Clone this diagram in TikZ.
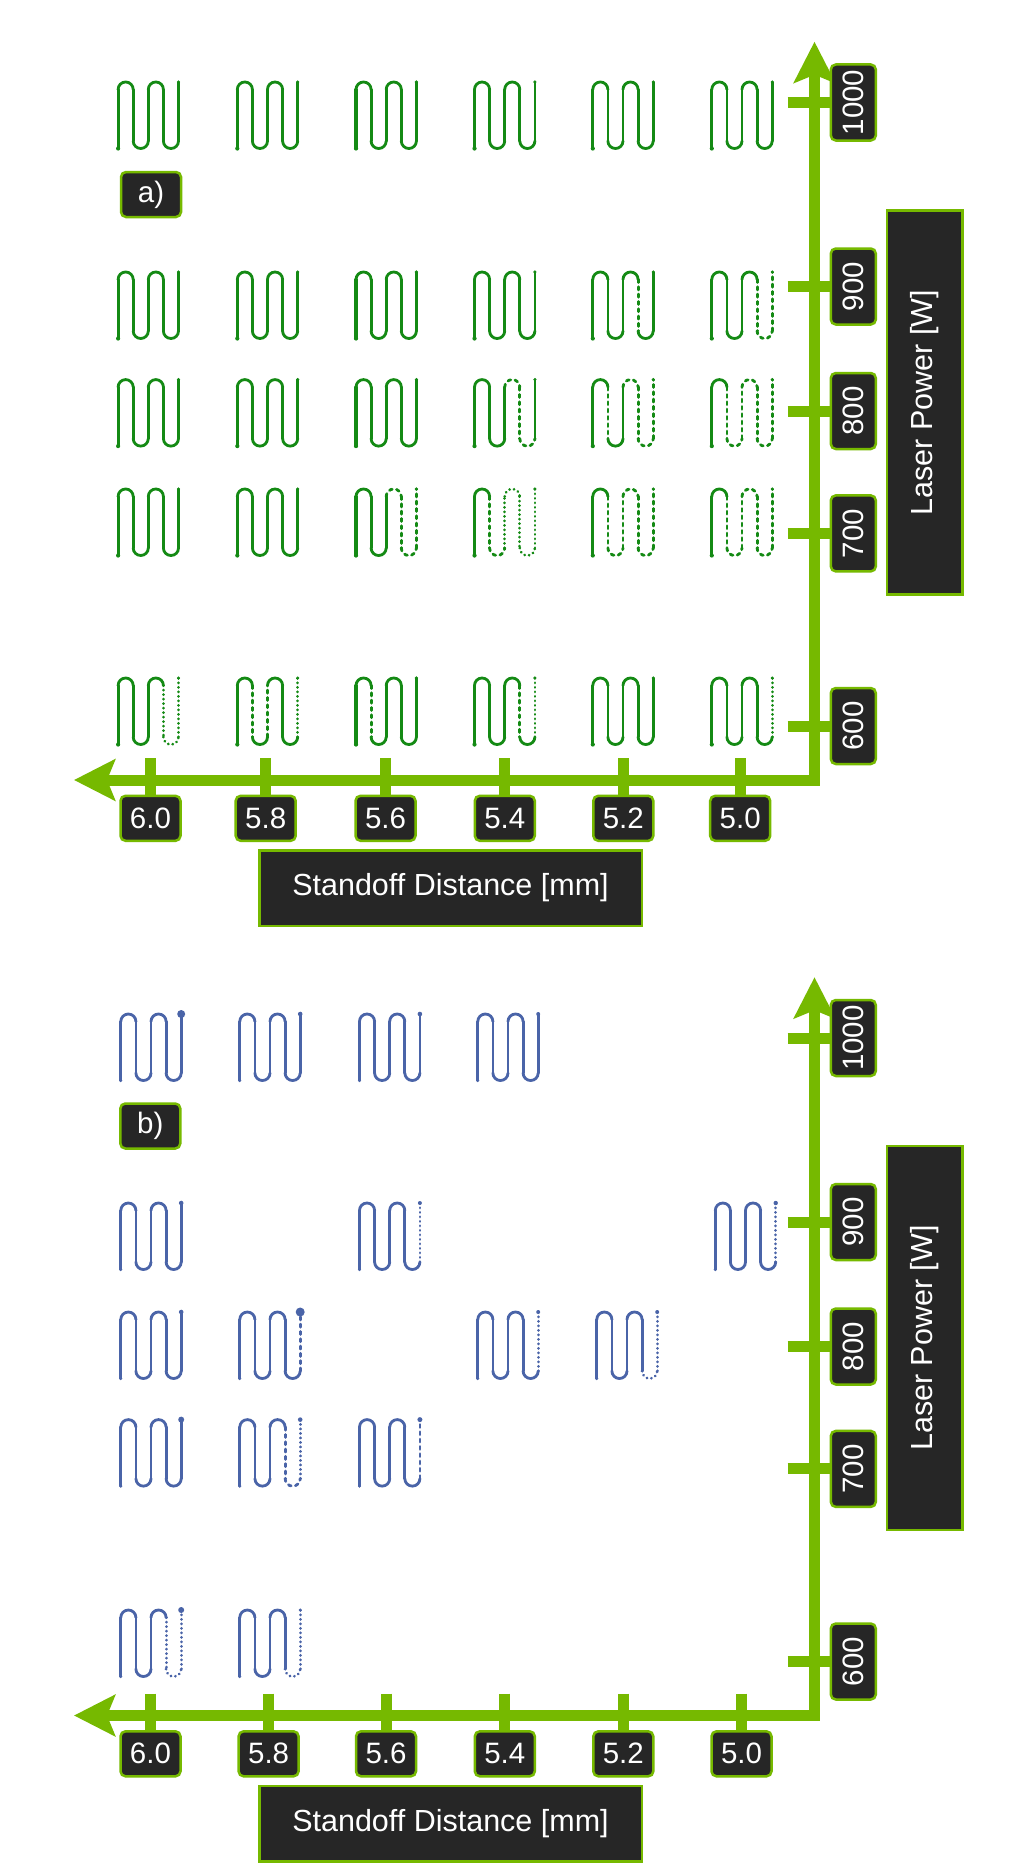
\documentclass[tikz,border=0pt]{standalone}
\usepackage{fontspec}
\setmainfont{Liberation Sans}
\usetikzlibrary{arrows.meta}
\definecolor{axgreen}{HTML}{76B900}
\definecolor{boxdark}{HTML}{262626}
\definecolor{mgreen}{HTML}{148A14}
\definecolor{mblue}{HTML}{4A64A8}
\tikzset{
  sg/.style={},
  ds/.style={dash pattern=on 3pt off 4.3pt},
  dt/.style={dash pattern=on 0.2pt off 4.3pt},
  axisline/.style={draw=axgreen, line width=11pt, line join=miter,
    arrows={Stealth[length=41pt,width=41pt,inset=8pt]-Stealth[length=41pt,width=41pt,inset=8pt]}},
  tickline/.style={draw=axgreen, line width=11pt},
  tickbox/.style={draw=axgreen, fill=boxdark, line width=2.5pt, rounded corners=5pt, text=white,
    font=\fontsize{29.5pt}{30pt}\selectfont, inner sep=0pt, minimum width=60pt, minimum height=45pt},
  vtickbox/.style={tickbox, rotate=90, minimum width=76pt},
  titlebox/.style={draw=axgreen, fill=boxdark, line width=2.5pt, text=white,
    font=\fontsize{30.5pt}{31pt}\selectfont, inner sep=0pt, minimum height=75.5pt},
}
% meander: #1 centre x, #2 top y, #3 colour, #4 nine segment styles, #5 end dot radius, #6 start dot radius
\newcommand{\mnd}[6]{%
 \edef\mndlist{#4}%
 \begin{scope}[shift={({#1-30.2},#2)}, color=#3, line width=2.8pt, line cap=round, rounded corners=7.5pt]
  \foreach \st [count=\i] in \mndlist {%
   \ifcase\i\or
    \draw[style=\st, line width=3.1pt] (0,66.5) -- (0,7.55);
   \or
    \draw[style=\st] (0,7.55) -- (0,0) -- (15.1,0) -- (15.1,7.55);
   \or
    \draw[style=\st] (15.1,7.55) -- (15.1,58.95);
   \or
    \draw[style=\st] (15.1,58.95) -- (15.1,66.5) -- (30.2,66.5) -- (30.2,58.95);
   \or
    \draw[style=\st] (30.2,58.95) -- (30.2,7.55);
   \or
    \draw[style=\st] (30.2,7.55) -- (30.2,0) -- (45.3,0) -- (45.3,7.55);
   \or
    \draw[style=\st] (45.3,7.55) -- (45.3,58.95);
   \or
    \draw[style=\st] (45.3,58.95) -- (45.3,66.5) -- (60.4,66.5) -- (60.4,58.95);
   \or
    \draw[style=\st] (60.4,58.95) -- (60.4,0);
   \fi
  }
  \fill (60.4,0) circle (#5pt);
  \fill (0,66.5) circle (#6pt);
 \end{scope}}
\def\S{sg,sg,sg,sg,sg,sg,sg,sg,sg}
\begin{document}
\begin{tikzpicture}[x=1pt,y=-1pt]
\useasboundingbox (0,0) rectangle (1020,1876);
\fill[white] (0,0) rectangle (1020,1876);

% ================= panel a =================
\mnd{148.3}{82}{mgreen}{\S}{1.7}{2.1}
\mnd{267.5}{82}{mgreen}{\S}{1.7}{2.1}
\mnd{386.2}{82}{mgreen}{\S}{1.7}{2.1}
\mnd{504.7}{82}{mgreen}{\S}{1.7}{2.1}
\mnd{623}{82}{mgreen}{\S}{1.7}{2.1}
\mnd{742}{82}{mgreen}{\S}{1.7}{2.1}

\mnd{148.3}{272}{mgreen}{\S}{1.7}{2.1}
\mnd{267.5}{272}{mgreen}{\S}{1.7}{2.1}
\mnd{386.2}{272}{mgreen}{\S}{1.7}{2.1}
\mnd{504.7}{272}{mgreen}{\S}{1.7}{2.1}
\mnd{623}{272}{mgreen}{sg,sg,sg,sg,sg,sg,ds,sg,sg}{1.7}{2.1}
\mnd{742}{272}{mgreen}{sg,sg,sg,sg,sg,sg,ds,ds,ds}{1.7}{2.1}

\mnd{148.3}{379.6}{mgreen}{\S}{1.7}{2.1}
\mnd{267.5}{379.6}{mgreen}{\S}{1.7}{2.1}
\mnd{386.2}{379.6}{mgreen}{\S}{1.7}{2.1}
\mnd{504.7}{379.6}{mgreen}{sg,sg,sg,sg,sg,ds,ds,ds,sg}{1.7}{2.1}
\mnd{623}{379.6}{mgreen}{sg,sg,ds,sg,sg,ds,ds,ds,ds}{1.7}{2.1}
\mnd{742}{379.6}{mgreen}{sg,sg,ds,ds,ds,ds,ds,ds,ds}{1.7}{2.1}

\mnd{148.3}{489}{mgreen}{\S}{1.7}{2.1}
\mnd{267.5}{489}{mgreen}{\S}{1.7}{2.1}
\mnd{386.2}{489}{mgreen}{sg,sg,sg,sg,sg,ds,ds,ds,ds}{1.7}{2.1}
\mnd{504.7}{489}{mgreen}{sg,sg,ds,ds,dt,dt,dt,dt,dt}{1.7}{2.1}
\mnd{623}{489}{mgreen}{sg,sg,ds,ds,ds,ds,ds,ds,ds}{1.7}{2.1}
\mnd{742}{489}{mgreen}{sg,sg,ds,ds,ds,ds,ds,ds,ds}{1.7}{2.1}

\mnd{148.3}{678}{mgreen}{sg,sg,sg,sg,sg,sg,dt,dt,dt}{1.7}{2.1}
\mnd{267.5}{678}{mgreen}{sg,sg,ds,sg,ds,sg,sg,sg,dt}{1.7}{2.1}
\mnd{386.2}{678}{mgreen}{sg,sg,ds,sg,sg,sg,sg,sg,sg}{1.7}{2.1}
\mnd{504.7}{678}{mgreen}{sg,sg,sg,sg,sg,sg,ds,sg,dt}{1.7}{2.1}
\mnd{623}{678}{mgreen}{\S}{1.7}{2.1}
\mnd{742}{678}{mgreen}{sg,sg,sg,sg,sg,sg,sg,sg,dt}{1.7}{2.1}

\coordinate (a-o) at (814.5,780);
\coordinate (a-xe) at (74,780);
\coordinate (a-ye) at (814.5,41.7);
\draw[axisline] (a-xe) -- (a-o) -- (a-ye);

\foreach \lab/\x [count=\k] in {6.0/150.5, 5.8/265.7, 5.6/385.5, 5.4/504.8, 5.2/623.3, 5.0/740.2} {
  \node[tickbox] (a-x\k) at (\x,818.3) {\lab};
  \coordinate (a-xt\k) at (\x,758);
  \draw[tickline] (a-xt\k) -- (a-x\k);
}
\foreach \lab/\y [count=\k] in {1000/102.5, 900/286.5, 800/411, 700/533.4, 600/726} {
  \node[vtickbox] (a-y\k) at (853.3,\y) {\lab};
  \coordinate (a-yt\k) at (787.5,\y);
  \draw[tickline] (a-yt\k) -- (a-y\k);
}
\node[titlebox, minimum width=382.5pt] (a-xl) at (450.5,888) {Standoff Distance [mm]};
\node[titlebox, rotate=90, minimum width=384pt] (a-yl) at (924.5,402.5) {Laser Power [W]};
\node[tickbox] (a-lab) at (151,194.5) {a)};

% ================= panel b =================
\mnd{151}{1014}{mblue}{\S}{4}{1.6}
\mnd{270}{1014}{mblue}{\S}{2.3}{1.6}
\mnd{389.7}{1014}{mblue}{\S}{2.3}{1.6}
\mnd{508}{1014}{mblue}{\S}{2}{1.6}

\mnd{151}{1203}{mblue}{\S}{2.3}{1.6}
\mnd{389.7}{1203}{mblue}{sg,sg,sg,sg,sg,sg,sg,sg,dt}{2}{1.6}
\mnd{745.5}{1203}{mblue}{sg,sg,sg,sg,sg,sg,sg,sg,dt}{2.2}{1.6}

\mnd{151}{1312}{mblue}{\S}{2.3}{1.6}
\mnd{270}{1312}{mblue}{sg,sg,sg,sg,sg,sg,sg,sg,ds}{4.5}{1.6}
\mnd{508}{1312}{mblue}{sg,sg,sg,sg,sg,sg,sg,sg,dt}{2}{1.6}
\mnd{627}{1312}{mblue}{sg,sg,sg,sg,sg,sg,sg,dt,dt}{2}{1.6}

\mnd{151}{1419.6}{mblue}{\S}{3}{1.6}
\mnd{270}{1419.6}{mblue}{sg,sg,sg,sg,sg,sg,ds,ds,dt}{2.3}{1.6}
\mnd{389.7}{1419.6}{mblue}{sg,sg,sg,sg,sg,sg,sg,sg,ds}{2.5}{1.6}

\mnd{151}{1610}{mblue}{sg,sg,sg,sg,sg,sg,dt,dt,dt}{3}{1.6}
\mnd{270}{1610}{mblue}{sg,sg,sg,sg,sg,sg,sg,dt,dt}{1.6}{1.6}

\coordinate (b-o) at (814.5,1715.5);
\coordinate (b-xe) at (74,1715.5);
\coordinate (b-ye) at (814.5,977.2);
\draw[axisline] (b-xe) -- (b-o) -- (b-ye);

\foreach \lab/\x [count=\k] in {6.0/150.5, 5.8/268.6, 5.6/386, 5.4/504.8, 5.2/623.3, 5.0/741.5} {
  \node[tickbox] (b-x\k) at (\x,1753.8) {\lab};
  \coordinate (b-xt\k) at (\x,1693.5);
  \draw[tickline] (b-xt\k) -- (b-x\k);
}
\foreach \lab/\y [count=\k] in {1000/1038, 900/1222, 800/1346.5, 700/1468.9, 600/1661.5} {
  \node[vtickbox] (b-y\k) at (853.3,\y) {\lab};
  \coordinate (b-yt\k) at (787.5,\y);
  \draw[tickline] (b-yt\k) -- (b-y\k);
}
\node[titlebox, minimum width=382.5pt] (b-xl) at (450.5,1823.5) {Standoff Distance [mm]};
\node[titlebox, rotate=90, minimum width=384pt] (b-yl) at (924.5,1338) {Laser Power [W]};
\node[tickbox] (b-lab) at (150.3,1126) {b)};
\end{tikzpicture}
\end{document}
